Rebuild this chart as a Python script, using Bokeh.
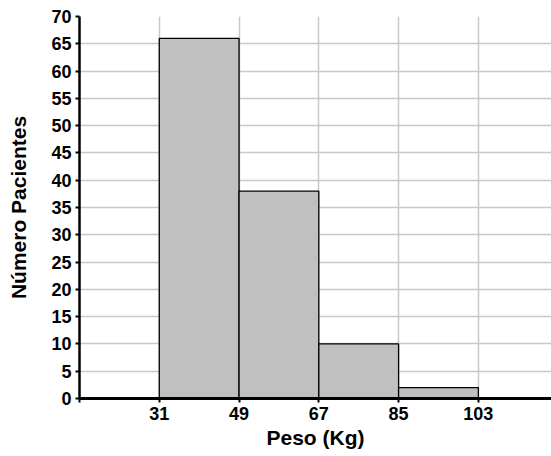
from bokeh.plotting import figure
from bokeh.models import FixedTicker, Range1d
from bokeh.embed import file_html
from bokeh.resources import INLINE

# Data
bin_edges = [31, 49, 67, 85, 103]
counts = [66, 38, 10, 2]
x_ticks = [13, 31, 49, 67, 85, 103, 121]
y_ticks = list(range(0, 75, 5))

lefts = bin_edges[:-1]
rights = bin_edges[1:]

p = figure(width=551, height=456, output_backend="svg", toolbar_location=None,
           x_range=Range1d(13, 119.5), y_range=Range1d(0, 70),
           min_border_left=79, min_border_right=0, min_border_top=16, min_border_bottom=58)
p.outline_line_color = None
p.background_fill_color = "white"

p.quad(left=lefts, right=rights, bottom=0, top=counts,
       fill_color="#c0c0c0", line_color="#000000", line_width=1.3)

p.xaxis.ticker = FixedTicker(ticks=x_ticks)
p.xaxis.major_label_overrides = {13: "", 121: ""}
p.yaxis.ticker = FixedTicker(ticks=y_ticks)

for ax in (p.xaxis, p.yaxis):
    ax.axis_line_color = "black"
    ax.major_tick_line_color = "black"
    ax.major_tick_line_width = 2
    ax.major_tick_in = 0
    ax.major_tick_out = 4
    ax.minor_tick_line_color = None
    ax.major_label_text_font = "Liberation Sans"
    ax.major_label_text_font_style = "bold"
    ax.major_label_text_font_size = "18px"
    ax.major_label_text_color = "black"
    ax.axis_label_text_font = "Liberation Sans"
    ax.axis_label_text_font_style = "bold"
    ax.axis_label_text_font_size = "21px"
    ax.axis_label_text_color = "black"

p.xaxis.axis_line_width = 3
p.yaxis.axis_line_width = 2.5
p.xaxis.axis_label = "Peso (Kg)"
p.yaxis.axis_label = "Número Pacientes"
p.xaxis.major_label_standoff = 4
p.xaxis.axis_label_standoff = 3
p.yaxis.major_label_standoff = 4
p.yaxis.axis_label_standoff = 18

p.xgrid.ticker = FixedTicker(ticks=x_ticks[1:])
p.ygrid.ticker = FixedTicker(ticks=y_ticks[1:])
for g in (p.xgrid, p.ygrid):
    g.grid_line_color = "#c8c8c8"
    g.grid_line_width = 1.5

open("out.html", "w").write(file_html(p, INLINE))
